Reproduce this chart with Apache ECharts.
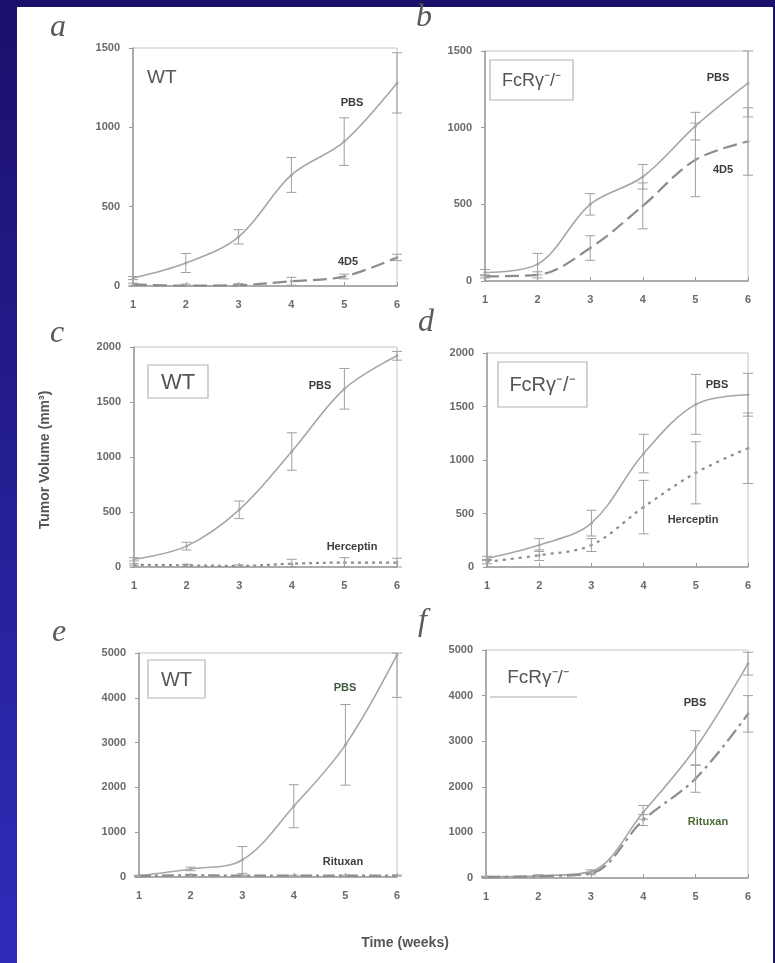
<!DOCTYPE html>
<html><head><meta charset="utf-8">
<script src="https://cdn.jsdelivr.net/npm/echarts@6/dist/echarts.min.js"></script>
<style>
html,body{margin:0;padding:0;background:#1b106c;}
#c{width:775px;height:963px;}
</style></head>
<body><div id="c"></div>
<script>
// ---- data ----
const weeks = [1, 2, 3, 4, 5, 6];
const xTicks = ['1','2','3','4','5','6'];

// panel a (WT, 4D5)
const aPBS = [50, 145, 310, 700, 910, 1280];
const aPBSErr = [10, 60, 45, 110, 150, 190];
const a4D5 = [10, 2, 5, 30, 60, 180];
const a4D5Err = [8, 10, 10, 25, 15, 20];
// panel b (FcRγ-/-, 4D5)
const bPBS = [55, 110, 500, 680, 1010, 1290];
const bPBSErr = [20, 70, 70, 80, 90, 220];
const b4D5 = [30, 40, 215, 490, 790, 910];
const b4D5Err = [10, 20, 80, 150, 240, 220];
// panel c (WT, Herceptin)
const cPBS = [70, 190, 520, 1050, 1620, 1920];
const cPBSErr = [15, 35, 80, 170, 185, 40];
const cHer = [20, 15, 10, 30, 40, 40];
const cHerErr = [10, 10, 10, 40, 45, 40];
// panel d (FcRγ-/-, Herceptin)
const dPBS = [80, 205, 410, 1060, 1520, 1610];
const dPBSErr = [20, 60, 120, 180, 280, 200];
const dHer = [50, 110, 205, 560, 880, 1110];
const dHerErr = [20, 50, 60, 250, 290, 330];
// panel e (WT, Rituxan)
const ePBS = [30, 180, 380, 1580, 2950, 4960];
const ePBSErr = [10, 40, 300, 480, 900, 950];
const eRit = [20, 40, 30, 30, 30, 30];
const eRitErr = [10, 20, 10, 10, 10, 10];
// panel f (FcRγ-/-, Rituxan)
const fPBS = [30, 50, 140, 1440, 2850, 4700];
const fPBSErr = [10, 20, 40, 150, 380, 250];
const fRit = [20, 40, 100, 1270, 2180, 3600];
const fRitErr = [10, 20, 30, 120, 300, 400];

const yTicksAB = [0, 500, 1000, 1500];
const yTicksCD = [0, 500, 1000, 1500, 2000];
const yTicksEF = [0, 1000, 2000, 3000, 4000, 5000];

// ---- layout ----
const grids = [
  {left:133, top:48,  width:264, height:238},
  {left:485, top:51,  width:263, height:230},
  {left:134, top:347, width:263, height:220},
  {left:487, top:353, width:261, height:214},
  {left:139, top:653, width:258, height:224},
  {left:486, top:650, width:262, height:228}
];
const yTickSets = [yTicksAB, yTicksAB, yTicksCD, yTicksCD, yTicksEF, yTicksEF];
const panels = [
  [aPBS, aPBSErr, a4D5, a4D5Err, [14,6]],
  [bPBS, bPBSErr, b4D5, b4D5Err, [14,6]],
  [cPBS, cPBSErr, cHer, cHerErr, [3,4]],
  [dPBS, dPBSErr, dHer, dHerErr, [3,5]],
  [ePBS, ePBSErr, eRit, eRitErr, [12,4,3,4]],
  [fPBS, fPBSErr, fRit, fRitErr, [14,5,3,5]]
];

const lineCol = '#a6a6a6';
const axisCol = '#9a9a9a';
const tickTxt = '#6a6a6a';

const xAxes = [], yAxes = [], series = [];
grids.forEach((g, i) => {
  const yt = yTickSets[i];
  xAxes.push({
    gridIndex:i, type:'value', min:1, max:6, interval:1,
    axisLine:{show:true, lineStyle:{color:axisCol, width:1.5}},
    axisTick:{show:true, inside:true, length:4, lineStyle:{color:axisCol}},
    splitLine:{show:false},
    axisLabel:{margin:13, color:tickTxt, fontSize:11, fontWeight:'bold', fontFamily:'Liberation Sans',
      formatter:v => xTicks[weeks.indexOf(v)] || ''}
  });
  yAxes.push({
    gridIndex:i, type:'value', min:yt[0], max:yt[yt.length-1], interval:yt[1]-yt[0],
    axisLine:{show:true, lineStyle:{color:axisCol, width:1.5}},
    axisTick:{show:true, length:4, lineStyle:{color:axisCol}},
    splitLine:{show:false},
    axisLabel:{margin:13, color:tickTxt, fontSize:11, fontWeight:'bold', fontFamily:'Liberation Sans',
      formatter:v => String(v)}
  });
  const p = panels[i];
  const mk = (vals, dashType, name) => ({
    type:'line', name, xAxisIndex:i, yAxisIndex:i, smooth:0.35,
    data: weeks.map((w,k)=>[w, vals[k]]),
    symbol:'circle', symbolSize:3, itemStyle:{color:lineCol},
    lineStyle:{color: dashType ? '#8c8c8c' : lineCol, width: dashType ? 2.2 : 1.6, type: dashType || 'solid'},
    z:3
  });
  const err = (vals, errs) => ({
    type:'custom', xAxisIndex:i, yAxisIndex:i, z:2,
    data: weeks.map((w,k)=>[w, vals[k]-errs[k], vals[k]+errs[k]]),
    renderItem:(params, api) => {
      const x = api.value(0);
      const lo = api.coord([x, Math.max(api.value(1), yt[0])]);
      const hi = api.coord([x, Math.min(api.value(2), yt[yt.length-1])]);
      const c = 5;
      const st = {stroke:'#a0a0a0', lineWidth:1};
      return {type:'group', children:[
        {type:'line', shape:{x1:lo[0], y1:lo[1], x2:hi[0], y2:hi[1]}, style:st},
        {type:'line', shape:{x1:lo[0]-c, y1:lo[1], x2:lo[0]+c, y2:lo[1]}, style:st},
        {type:'line', shape:{x1:hi[0]-c, y1:hi[1], x2:hi[0]+c, y2:hi[1]}, style:st}
      ]};
    }
  });
  series.push(err(p[0], p[1]), err(p[2], p[3]), mk(p[0], null, 'PBS'), mk(p[2], p[4], 'treated'));
});

// ---- annotations ----
const letter = (t, x, y) => ({type:'text', x, y, z:10, style:{text:t, font:'italic 32px "Liberation Serif"', fill:'#5a5a5a'}});
const lab = (t, x, y, col) => ({type:'text', x, y, z:10, style:{text:t, font:'bold 11px "Liberation Sans"', fill:col || '#3c3c3c', align:'center', verticalAlign:'middle'}});
const box = (x, y, w, h, t, fs) => ([
  {type:'rect', z:9, shape:{x, y, width:w, height:h}, style:{fill:'#fff', stroke:'#b4b4b4', lineWidth:1.2}},
  {type:'text', z:10, x:x+w/2, y:y+h/2+1, style:{text:t, font: fs+'px "Liberation Sans"', fill:'#555', align:'center', verticalAlign:'middle'}}
]);
const fc = 'FcRγ\u207B/\u207B';

const graphic = [
  {type:'rect', z:-10, shape:{x:0, y:0, width:17, height:963}, style:{fill:new echarts.graphic.LinearGradient(0,0,0,1,[{offset:0,color:'#1b106c'},{offset:1,color:'#2f2cba'}])}},
  {type:'rect', z:-10, shape:{x:17, y:7, width:756, height:956}, style:{fill:'#ffffff'}},
  letter('a', 50, 12), letter('b', 416, 2), letter('c', 50, 318), letter('d', 418, 307), letter('e', 52, 617), letter('f', 418, 606),
  {type:'text', z:10, x:147, y:68, style:{text:'WT', font:'19px "Liberation Sans"', fill:'#555'}},
  ...box(490, 60, 83, 40, fc, 18),
  ...box(148, 365, 60, 33, 'WT', 22),
  ...box(498, 362, 89, 45, fc, 20),
  ...box(148, 660, 57, 38, 'WT', 20),
  {type:'text', z:10, x:538, y:678, style:{text:fc, font:'19px "Liberation Sans"', fill:'#555', align:'center', verticalAlign:'middle'}},
  {type:'line', z:10, shape:{x1:490, y1:697, x2:577, y2:697}, style:{stroke:'#aaa', lineWidth:1.2}},
  lab('PBS', 352, 103), lab('4D5', 348, 262),
  lab('PBS', 718, 78), lab('4D5', 723, 170),
  lab('PBS', 320, 386), lab('Herceptin', 352, 547),
  lab('PBS', 717, 385), lab('Herceptin', 693, 520),
  lab('PBS', 345, 688, '#3d5a3d'), lab('Rituxan', 343, 862),
  lab('PBS', 695, 703), lab('Rituxan', 708, 822, '#4a6a3a'),
  {type:'text', z:10, x:45, y:460, rotation:Math.PI/2, style:{text:'Tumor Volume (mm\u00B3)', font:'bold 14px "Liberation Sans"', fill:'#555', align:'center', verticalAlign:'middle'}},
  {type:'text', z:10, x:405, y:943, style:{text:'Time (weeks)', font:'bold 14px "Liberation Sans"', fill:'#555', align:'center', verticalAlign:'middle'}}
];

const chart = echarts.init(document.getElementById('c'), null, {renderer:'canvas'});
chart.setOption({
  animation:false,
  backgroundColor:'transparent',
  grid: grids.map(g => Object.assign({show:true, borderColor:'#c4c4c4', borderWidth:1, backgroundColor:'transparent'}, g)),
  xAxis:xAxes, yAxis:yAxes, series, graphic
});
</script></body></html>
